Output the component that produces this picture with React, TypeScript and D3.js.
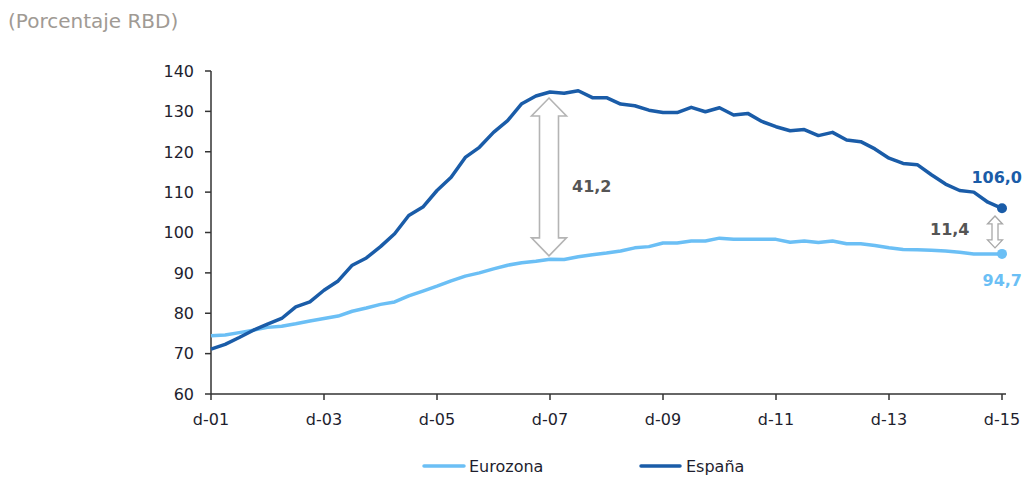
import React from "react";
import * as d3 from "d3";

const espana = [71.1, 72.3, 74.0, 75.8, 77.3, 78.7, 81.6, 82.8, 85.7, 88.0, 91.9, 93.7, 96.5, 99.7, 104.2, 106.3, 110.4, 113.7, 118.6, 121.1, 124.8, 127.7, 131.9, 133.8, 134.8, 134.5, 135.1, 133.4, 133.4, 131.8, 131.4, 130.3, 129.7, 129.7, 131.0, 129.9, 130.9, 129.1, 129.5, 127.5, 126.2, 125.2, 125.5, 124.0, 124.8, 122.9, 122.5, 120.7, 118.4, 117.1, 116.8, 114.3, 112.0, 110.4, 110.0, 107.5, 106.0];
const eurozona = [74.4, 74.6, 75.2, 75.8, 76.5, 76.8, 77.4, 78.1, 78.7, 79.3, 80.5, 81.3, 82.2, 82.8, 84.3, 85.5, 86.7, 88.0, 89.2, 90.0, 91.0, 91.9, 92.5, 92.9, 93.4, 93.3, 94.0, 94.5, 94.9, 95.4, 96.2, 96.5, 97.4, 97.4, 97.9, 97.9, 98.6, 98.3, 98.3, 98.3, 98.3, 97.6, 97.9, 97.5, 97.9, 97.2, 97.2, 96.8, 96.2, 95.8, 95.7, 95.6, 95.4, 95.1, 94.7, 94.7, 94.7];
const xTickLabels = ["d-01", "d-03", "d-05", "d-07", "d-09", "d-11", "d-13", "d-15"];
const yTicks = [60, 70, 80, 90, 100, 110, 120, 130, 140];
const seriesNames = ["Eurozona", "España"];
const gapBig = { label: "41,2", idx: 24, top: 133.3, bottom: 94.2 };
const gapSmall = { label: "11,4", idx: 56, top: 104.1, bottom: 96.2 };
const endLabels = ["106,0", "94,7"];

const C_ES = "#1a5ca8";
const C_EZ = "#6bbff5";
const FONT = "DejaVu Sans, Verdana, sans-serif";

function arrowPath(x: number, y1: number, y2: number, hw: number, sw: number, hh: number) {
  return `M${x},${y1} L${x + hw},${y1 + hh} L${x + sw},${y1 + hh} L${x + sw},${y2 - hh} L${x + hw},${y2 - hh} L${x},${y2} L${x - hw},${y2 - hh} L${x - sw},${y2 - hh} L${x - sw},${y1 + hh} L${x - hw},${y1 + hh} Z`;
}

export default function App() {
  const x = d3.scaleLinear().domain([0, 56]).range([211, 1002]);
  const y = d3.scaleLinear().domain([60, 140]).range([394, 71]);
  const line = d3.line<number>().x((_, i) => x(i)).y((d) => y(d));
  const xTicks = xTickLabels.map((_, i) => i * 8);
  const last = 56;

  return (
    <svg width={1025} height={480} style={{ position: "absolute", left: 0, top: 0, background: "#fff" }} fontFamily={FONT}>
      <text x={8} y={28} fontSize={20} fill="#a09a94">(Porcentaje RBD)</text>

      {/* axes */}
      <line x1={211} x2={211} y1={y(140)} y2={y(60)} stroke="#333" strokeWidth={1.5} />
      <line x1={211} x2={x(56) + 4} y1={y(60)} y2={y(60)} stroke="#333" strokeWidth={1.5} />
      {yTicks.map((t) => (
        <g key={t}>
          <line x1={205} x2={211} y1={y(t)} y2={y(t)} stroke="#333" strokeWidth={1.5} />
          <text x={194} y={y(t)} dy="0.36em" textAnchor="end" fontSize={16} fill="#1e1e2e">{t}</text>
        </g>
      ))}
      {xTicks.map((t, i) => (
        <g key={t}>
          <line x1={x(t)} x2={x(t)} y1={y(60)} y2={y(60) + 6} stroke="#333" strokeWidth={1.5} />
          <text x={x(t)} y={425} textAnchor="middle" fontSize={16} fill="#1e1e2e">{xTickLabels[i]}</text>
        </g>
      ))}

      {/* gap arrows */}
      <path d={arrowPath(x(gapBig.idx) - 1, y(gapBig.top), y(gapBig.bottom), 17.5, 9.5, 18)} fill="#fff" stroke="#b4b4b4" strokeWidth={1.6} />
      <text x={572} y={192} fontSize={16} fill="#555" fontWeight="bold">{gapBig.label}</text>
      <path d={arrowPath(x(gapSmall.idx) - 7, y(gapSmall.top), y(gapSmall.bottom), 7.5, 3, 8)} fill="#fff" stroke="#a8a8a8" strokeWidth={1.3} />
      <text x={930} y={235} fontSize={16} fill="#555" fontWeight="bold">{gapSmall.label}</text>

      {/* lines */}
      <path d={line(eurozona) || ""} fill="none" stroke={C_EZ} strokeWidth={3.5} strokeLinejoin="round" />
      <path d={line(espana) || ""} fill="none" stroke={C_ES} strokeWidth={3.5} strokeLinejoin="round" />
      <circle cx={x(last)} cy={y(espana[last])} r={5} fill={C_ES} />
      <circle cx={x(last)} cy={y(eurozona[last])} r={5} fill={C_EZ} />
      <text x={1022} y={183} textAnchor="end" fontSize={16} fill={C_ES} fontWeight="bold">{endLabels[0]}</text>
      <text x={1022} y={286} textAnchor="end" fontSize={16} fill={C_EZ} fontWeight="bold">{endLabels[1]}</text>

      {/* legend */}
      <line x1={424} x2={464} y1={466} y2={466} stroke={C_EZ} strokeWidth={3.5} strokeLinecap="round" />
      <text x={469} y={472} fontSize={16} fill="#1e1e2e">{seriesNames[0]}</text>
      <line x1={641} x2={680} y1={466} y2={466} stroke={C_ES} strokeWidth={3.5} strokeLinecap="round" />
      <text x={686} y={472} fontSize={16} fill="#1e1e2e">{seriesNames[1]}</text>
    </svg>
  );
}
